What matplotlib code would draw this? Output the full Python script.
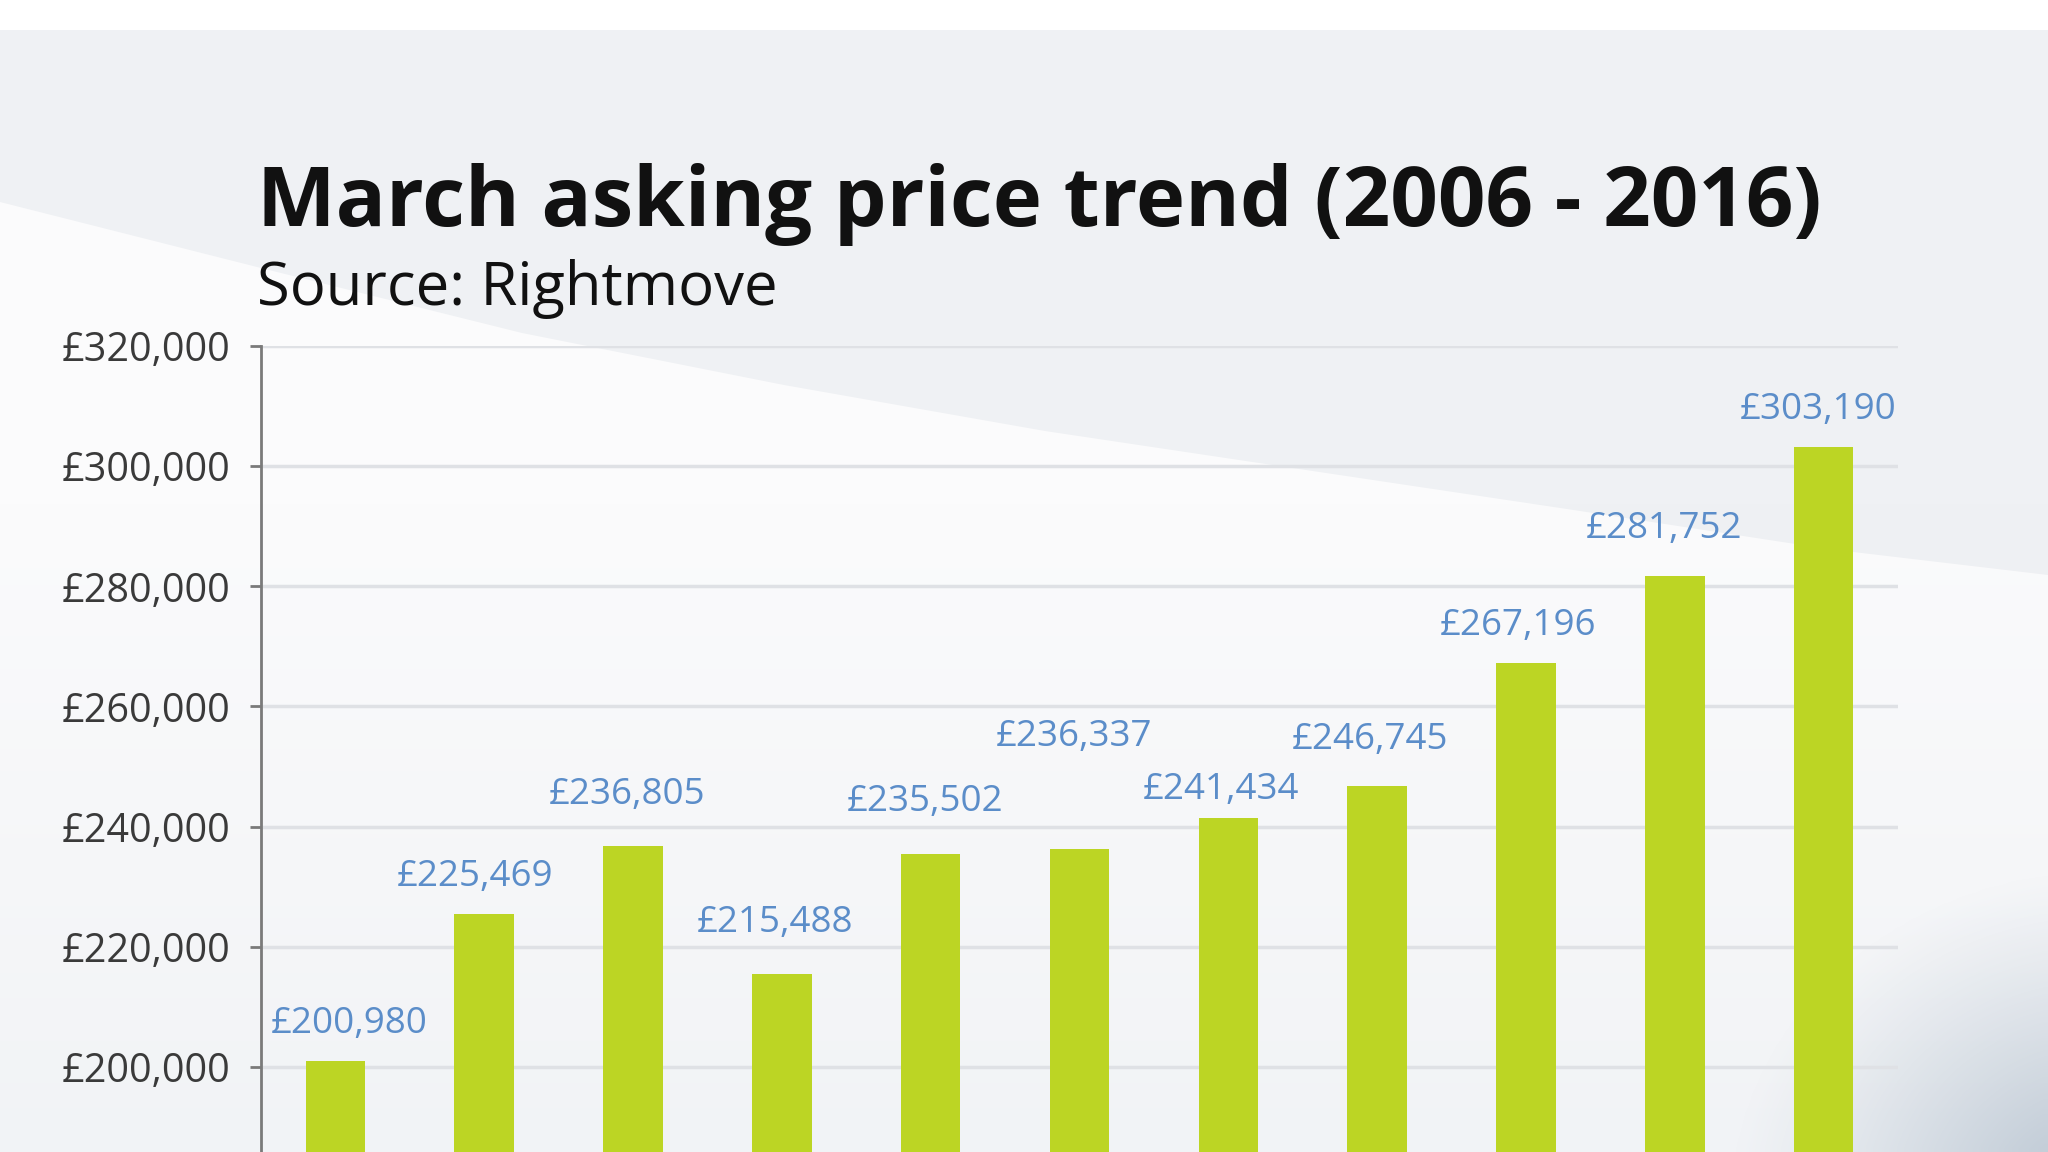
import numpy as np
import matplotlib.pyplot as plt
from matplotlib.patches import Polygon, Rectangle
from matplotlib.ticker import FuncFormatter

years = ["2006", "2007", "2008", "2009", "2010", "2011", "2012", "2013", "2014", "2015", "2016"]
prices = [200980, 225469, 236805, 215488, 235502, 236337, 241434, 246745, 267196, 281752, 303190]
y_ticks = [200000, 220000, 240000, 260000, 280000, 300000, 320000]

# where each value label sits relative to its bar top (points), as in the original
label_dx = [10, -7, -4, -5, -4, -4, -5, -5, -6, -8, -4]
label_dy = [20, 20, 30, 30, 31, 74, 14, 27, 20, 27, 20]

title = "March asking price trend (2006 - 2016)"
subtitle = "Source: Rightmove"

BAR = "#bcd524"
LABEL_BLUE = "#5b8dc9"
TICK_GREY = "#3a3a3a"
FONT = "Open Sans"

fig = plt.figure(figsize=(20.48, 11.52), dpi=100)
fig.patch.set_facecolor("#eff1f4")

# background: white strip on top, light swoosh, soft darker corner bottom right
bg = fig.add_axes([0, 0, 1, 1], zorder=-5)
bg.set_xlim(0, 2048)
bg.set_ylim(1152, 0)
bg.axis("off")
bg.add_patch(Rectangle((0, 0), 2048, 30, color="white", lw=0))
swoosh = [(0, 202), (261, 268), (522, 333), (784, 385), (1045, 431), (1306, 470),
          (1567, 509), (1828, 549), (2048, 575), (2048, 1152), (0, 1152)]
bg.add_patch(Polygon(swoosh, closed=True, color="#fbfbfc", lw=0))

gx, gy = np.meshgrid(np.linspace(0, 2048, 256), np.linspace(0, 1152, 144))
fade = np.zeros(gx.shape + (4,))
fade[..., :3] = np.array([0.925, 0.935, 0.95])
fade[..., 3] = np.clip((gy - 500) / 650, 0, 1) * 0.6
bg.imshow(fade, extent=(0, 2048, 1152, 0), aspect="auto",
          interpolation="bilinear", zorder=2)

dist = np.hypot((gx - 2110) / 380, (gy - 1210) / 340)
shade = np.zeros(gx.shape + (4,))
shade[..., :3] = np.array([0.66, 0.72, 0.78])
shade[..., 3] = np.clip(1 - dist, 0, 1) ** 1.2 * 0.85
bg.imshow(shade, extent=(0, 2048, 1152, 0), aspect="auto",
          interpolation="bilinear", zorder=3)
bg.set_xlim(0, 2048)
bg.set_ylim(1152, 0)

ax = fig.add_axes([261 / 2048, 0, 1637 / 2048, 1 - 346 / 1152])
ax.set_facecolor("none")

x = np.arange(len(prices))
ax.bar(x, prices, width=0.40, color=BAR, zorder=3)

ax.set_xlim(-0.5, len(prices) - 0.5)
ax.set_ylim(185850, 320000)
ax.set_yticks(y_ticks)
ax.yaxis.set_major_formatter(FuncFormatter(lambda v, p: "£{:,.0f}".format(v)))
ax.set_xticks([])
ax.grid(axis="y", color="#dfe1e5", linewidth=2.5, zorder=0)

for s in ["top", "right", "bottom"]:
    ax.spines[s].set_visible(False)
ax.spines["left"].set_color("#7a7a7a")
ax.spines["left"].set_linewidth(2)
ax.tick_params(axis="y", length=8, width=2, color="#7a7a7a", pad=14,
               labelsize=28.5, labelcolor=TICK_GREY)
for lab in ax.get_yticklabels():
    lab.set_fontfamily(FONT)

for xi, val, dx, dy in zip(x, prices, label_dx, label_dy):
    ax.annotate("£{:,}".format(val), (xi, val), xytext=(dx, dy),
                textcoords="offset points", ha="center", va="baseline",
                fontsize=26.5, color=LABEL_BLUE, family=FONT)

fig.text(257 / 2048, 1 - 226 / 1152, title, fontsize=60, fontweight="bold",
         color="#111111", family=FONT, va="baseline")
fig.text(257 / 2048, 1 - 305 / 1152, subtitle, fontsize=43,
         color="#111111", family=FONT, va="baseline")

fig.savefig("out.png", dpi=100)
plt.close(fig)
